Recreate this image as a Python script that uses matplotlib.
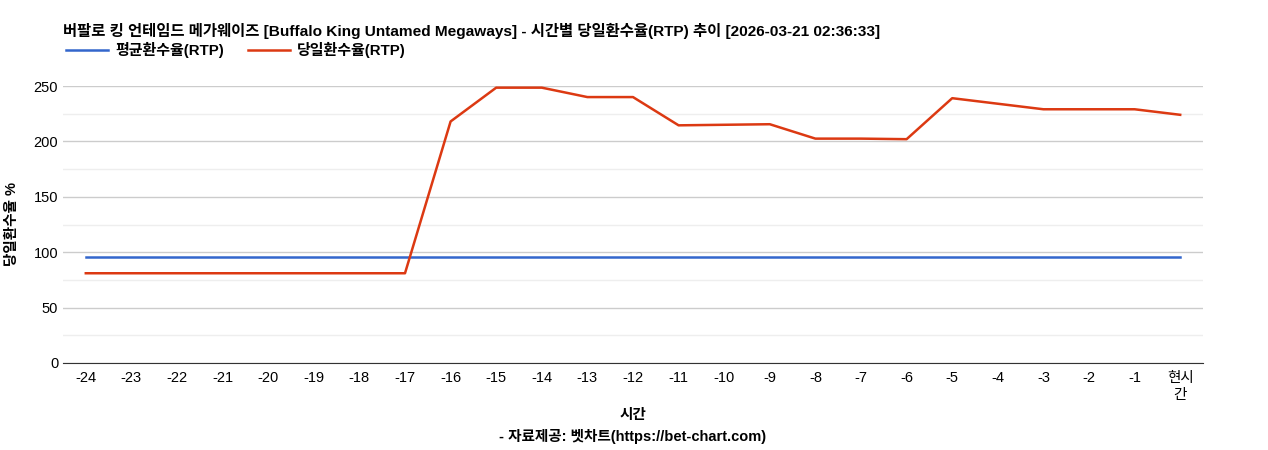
import matplotlib.pyplot as plt
from matplotlib.ticker import MultipleLocator

plt.rcParams['font.family'] = ['Liberation Sans', 'Noto Sans CJK KR', 'DejaVu Sans']

hours = ['-24', '-23', '-22', '-21', '-20', '-19', '-18', '-17', '-16', '-15', '-14', '-13',
         '-12', '-11', '-10', '-9', '-8', '-7', '-6', '-5', '-4', '-3', '-2', '-1', '현시\n간']
avg_rtp = [95.7] * 25
day_rtp = [81, 81, 81, 81, 81, 81, 81, 81, 218, 248.5, 248.5, 240, 240, 214.5, 215, 215.5,
           202.5, 202.5, 202, 239, 234, 229, 229, 229, 224]

fig = plt.figure(figsize=(12.68, 4.5), dpi=100)
ax = fig.add_axes([63 / 1268, 87 / 450, 1140 / 1268, 277 / 450])
x = range(len(hours))
ax.plot(x, avg_rtp, color='#3366cc', lw=1.8, label='평균환수율(RTP)')
ax.plot(x, day_rtp, color='#dc3912', lw=1.8, label='당일환수율(RTP)')

ax.set_xlim(-0.5, len(hours) - 0.5)
ax.set_ylim(0, 250)
ax.yaxis.set_major_locator(MultipleLocator(50))
ax.yaxis.set_minor_locator(MultipleLocator(25))
ax.grid(axis='y', which='major', color='#cccccc', lw=1)
ax.grid(axis='y', which='minor', color='#eeeeee', lw=1)
ax.set_axisbelow(True)
ax.set_xticks(list(x))
ax.set_xticklabels(hours, fontsize=10.5)
ax.tick_params(axis='y', which='both', labelsize=10.5, length=0)
ax.tick_params(axis='x', length=0, pad=6)
for s in ['top', 'right', 'left']:
    ax.spines[s].set_visible(False)
ax.spines['bottom'].set_color('#333333')

ax.set_ylabel('당일환수율 %', fontsize=10.5, fontweight='bold', va='center')
ax.yaxis.set_label_coords(-51 / 1140, 0.5)
fig.text(633 / 1268, 1 - 415 / 450, '시간', fontsize=10.5, fontweight='bold', ha='center', va='center')
fig.text(633 / 1268, 1 - 437 / 450, '- 자료제공: 벳차트(https://bet-chart.com)', fontsize=10.5,
         fontweight='bold', ha='center', va='center')

fig.text(63 / 1268, 1 - 31 / 450, '버팔로 킹 언테임드 메가웨이즈 [Buffalo King Untamed Megaways] - 시간별 당일환수율(RTP) 추이 [2026-03-21 02:36:33]',
         fontsize=11.1, fontweight='bold', va='center')
ax.legend(loc='lower left', bbox_to_anchor=(-0.003, 1.08), ncol=2, frameon=False,
          prop={'weight': 'bold', 'size': 10.8}, handlelength=2.8,
          borderaxespad=0, columnspacing=1.6, handletextpad=0.5)

fig.savefig('out.png', dpi=100)
